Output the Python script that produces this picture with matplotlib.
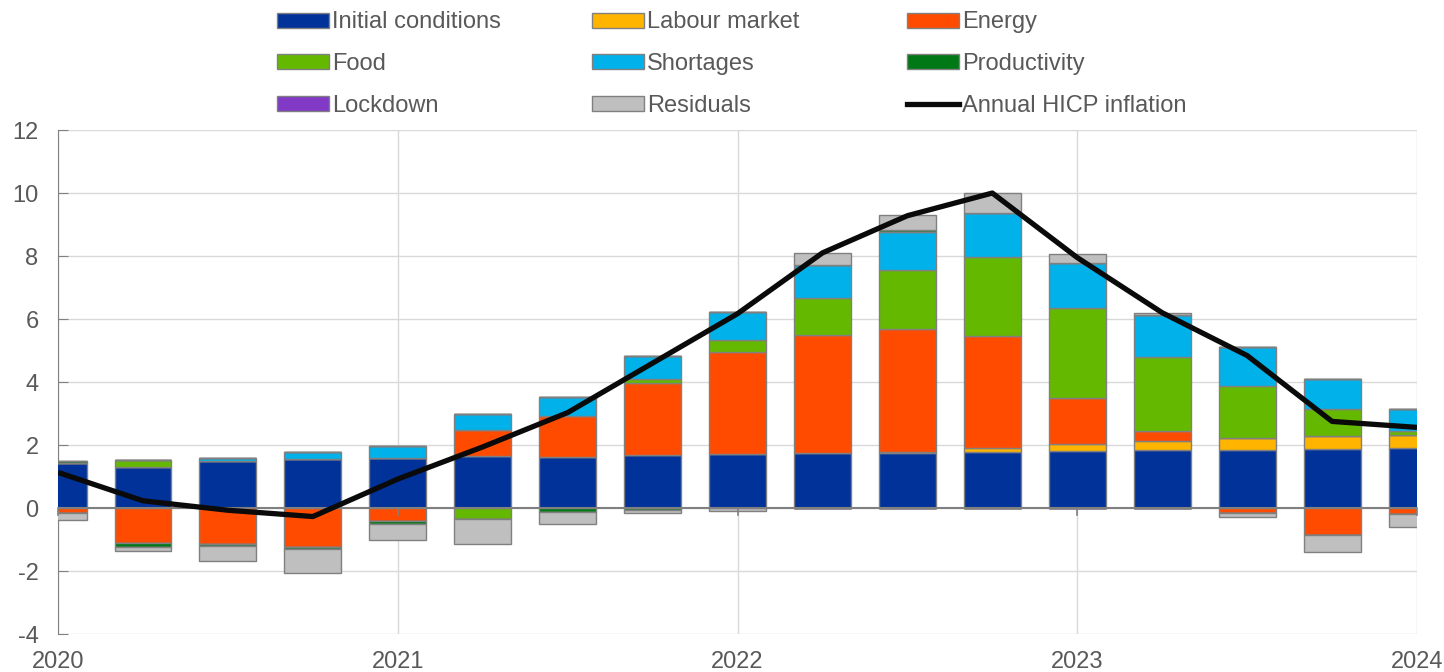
import matplotlib.pyplot as plt
import numpy as np
from matplotlib.patches import Patch
from matplotlib.lines import Line2D

plt.rcParams['font.family'] = ['Liberation Sans', 'DejaVu Sans']
plt.rcParams['axes.unicode_minus'] = False

# quarterly contributions, 2020Q1 .. 2024Q1
quarters = ['2020Q1', '2020Q2', '2020Q3', '2020Q4', '2021Q1', '2021Q2', '2021Q3', '2021Q4',
            '2022Q1', '2022Q2', '2022Q3', '2022Q4', '2023Q1', '2023Q2', '2023Q3', '2023Q4', '2024Q1']
initial = [1.42, 1.29, 1.50, 1.56, 1.59, 1.64, 1.62, 1.69, 1.73, 1.75, 1.75, 1.78, 1.81, 1.84, 1.84, 1.87, 1.89]
labour = [0, 0, 0, 0, 0, 0, 0, 0, 0, 0, 0.03, 0.12, 0.23, 0.30, 0.38, 0.42, 0.44]
energy = [-0.17, -1.11, -1.14, -1.23, -0.40, 0.83, 1.29, 2.29, 3.21, 3.73, 3.91, 3.56, 1.46, 0.29, -0.15, -0.85, -0.20]
food = [0, 0.23, 0, 0, 0, -0.36, 0, 0.12, 0.41, 1.20, 1.86, 2.52, 2.85, 2.35, 1.66, 0.85, 0.10]
shortages = [0, 0, 0.10, 0.23, 0.37, 0.50, 0.61, 0.72, 0.86, 1.02, 1.22, 1.40, 1.44, 1.36, 1.24, 0.97, 0.71]
productivity = [0.07, -0.12, -0.06, -0.06, -0.10, 0, -0.13, -0.05, 0, 0, 0.05, 0, 0, 0, 0, 0, 0]
lockdown = [0, 0, 0, -0.02, -0.02, 0, 0, 0, 0, 0, 0, 0, 0, 0, 0, 0, 0]
residuals = [-0.20, -0.13, -0.49, -0.75, -0.51, -0.77, -0.39, -0.11, -0.10, 0.40, 0.49, 0.62, 0.26, 0.06, -0.13, -0.53, -0.39]
hicp = [1.13, 0.23, -0.07, -0.27, 0.92, 1.94, 3.03, 4.60, 6.17, 8.10, 9.28, 10.0, 7.95, 6.20, 4.84, 2.75, 2.56]
years = ['2020', '2021', '2022', '2023', '2024']

series = [
    ('Initial conditions', initial, '#003299'),
    ('Labour market', labour, '#FFB400'),
    ('Energy', energy, '#FF4B00'),
    ('Food', food, '#65B800'),
    ('Shortages', shortages, '#00B1EA'),
    ('Productivity', productivity, '#007816'),
    ('Lockdown', lockdown, '#8139C6'),
    ('Residuals', residuals, '#BFBFBF'),
]

txt = '#595959'
fs = 17
fig = plt.figure(figsize=(14.44, 6.72), dpi=100)
ax = fig.add_axes([0.0402, 0.0565, 0.9411, 0.75])

x = np.arange(len(quarters))
pos = np.zeros(len(x))
neg = np.zeros(len(x))
for name, vals, col in series:
    v = np.array(vals, dtype=float)
    p = np.where(v > 0, v, 0)
    n = np.where(v < 0, v, 0)
    ax.bar(x, p, 0.67, bottom=pos, color=col, edgecolor='#808080', linewidth=1, zorder=3)
    ax.bar(x, n, 0.67, bottom=neg, color=col, edgecolor='#808080', linewidth=1, zorder=3)
    pos += p
    neg += n

ax.axhline(0, color='#808080', linewidth=1.5, zorder=4)
year_pos = x[::4]
for xp in year_pos:
    ax.plot([xp, xp], [0, -0.22], color='#808080', linewidth=1.2, zorder=4, clip_on=False)

ax.plot(x, hicp, color='#0a0a0a', linewidth=3.8, zorder=5, solid_capstyle='butt')

ax.set_xlim(0, 16)
ax.set_ylim(-4, 12)
ax.set_yticks(np.arange(-4, 13, 2))
ax.set_xticks(year_pos)
ax.set_xticklabels(years)
ax.grid(True, color='#D9D9D9', linewidth=1, zorder=0)
ax.set_axisbelow(True)
for s in ['top', 'right', 'bottom']:
    ax.spines[s].set_visible(False)
ax.spines['left'].set_color('#808080')
ax.tick_params(axis='y', direction='in', length=7, color='#808080', labelsize=fs, labelcolor=txt, pad=14)
ax.tick_params(axis='x', length=0, labelsize=fs, labelcolor=txt, pad=12)

# legend in three fixed-width columns
handles = {name: Patch(facecolor=col, edgecolor='#808080', linewidth=1) for name, _, col in series}
handles['Annual HICP inflation'] = Line2D([], [], color='#0a0a0a', linewidth=3.8)
columns = [
    ['Initial conditions', 'Food', 'Lockdown'],
    ['Labour market', 'Shortages', 'Residuals'],
    ['Energy', 'Productivity', 'Annual HICP inflation'],
]
col_x = [272 / 1444, 587 / 1444, 902 / 1444]
for cx, names in zip(col_x, columns):
    fig.legend([handles[n] for n in names], names, loc='upper left', bbox_to_anchor=(cx, 0.990),
               frameon=False, fontsize=fs, labelcolor=txt, handlelength=2.2, handleheight=0.6,
               handletextpad=0.15, labelspacing=0.83, borderaxespad=0, borderpad=0.2)

fig.savefig('out.png', dpi=100)
